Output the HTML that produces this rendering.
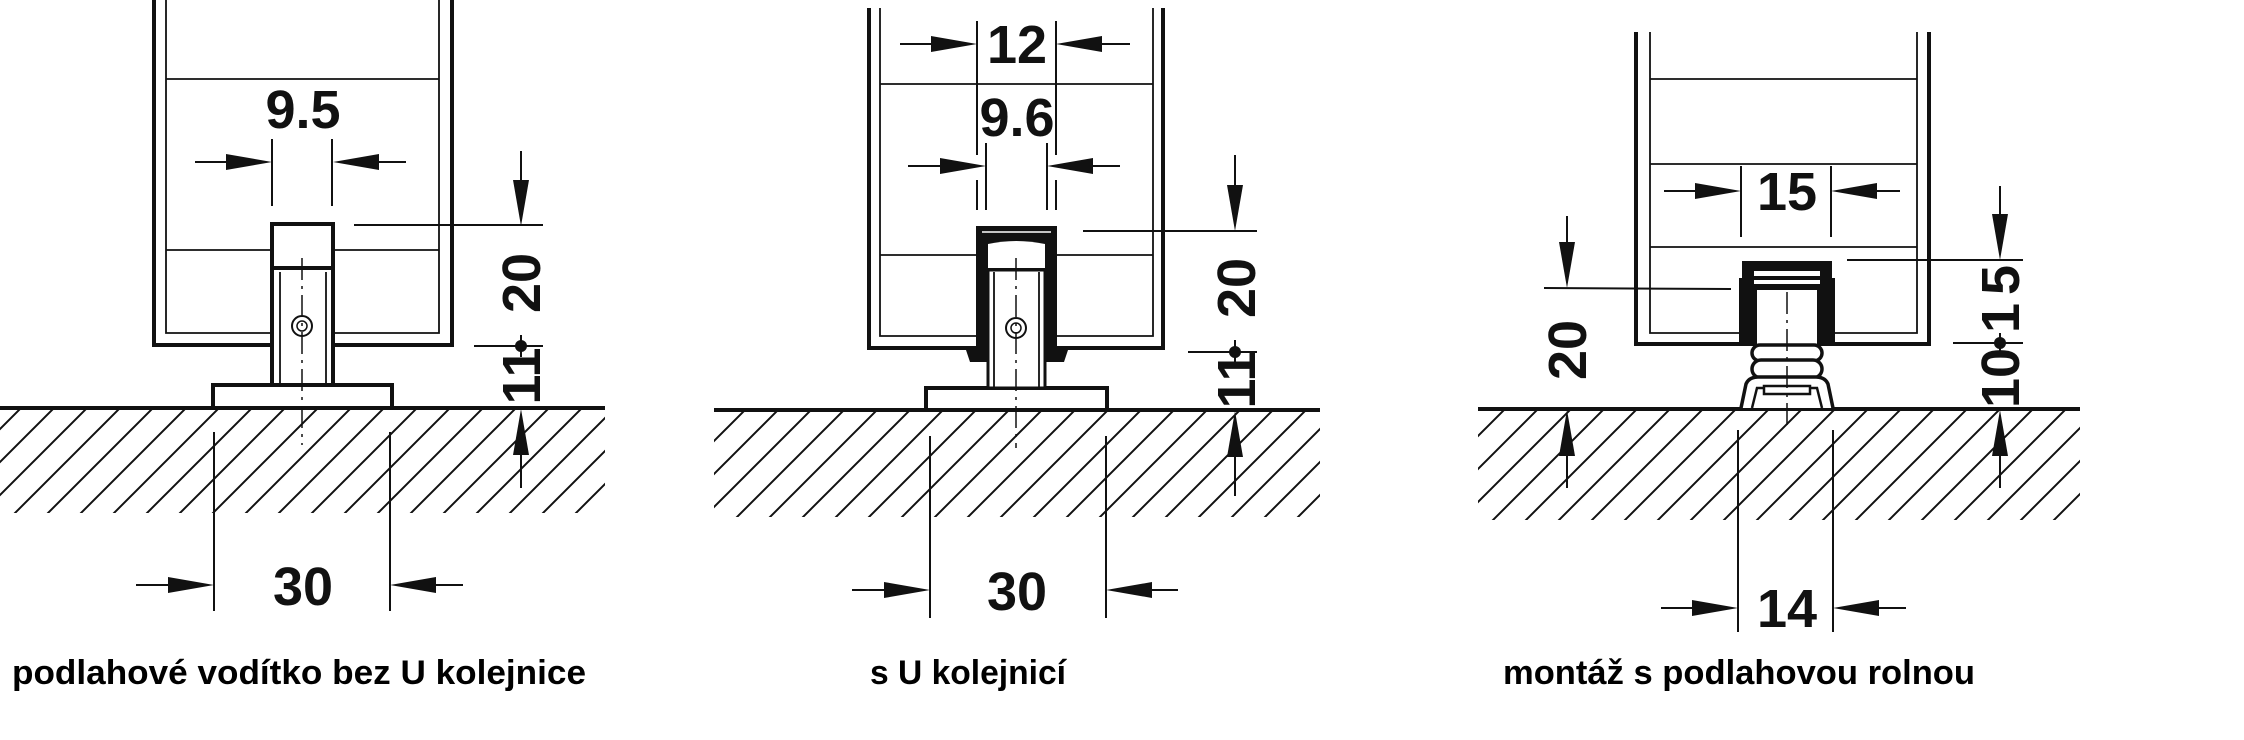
<!DOCTYPE html>
<html><head><meta charset="utf-8"><style>
html,body{margin:0;padding:0;background:#fff;}
svg{display:block;}
.d{font-family:"Liberation Sans",sans-serif;font-weight:bold;font-size:54px;fill:#111;}
.c{font-family:"Liberation Sans",sans-serif;font-weight:bold;font-size:34px;fill:#000;}
</style></head><body>
<svg width="2244" height="740" viewBox="0 0 2244 740" xmlns="http://www.w3.org/2000/svg">
<defs>
<pattern id="h" patternUnits="userSpaceOnUse" width="33" height="33">
<path d="M-5,5 L5,-5 M0,33 L33,0 M28,38 L38,28" stroke="#111" stroke-width="2"/>
</pattern>
</defs>
<g stroke="#111" fill="none" stroke-linecap="butt">

<!-- ===== PANEL 1 ===== -->
<rect x="0" y="409" width="605" height="104" fill="url(#h)" stroke="none"/>
<line x1="0" y1="408" x2="605" y2="408" stroke-width="4"/>
<polyline points="154,0 154,345 452,345 452,0" stroke-width="4"/>
<polyline points="166,0 166,333 439,333 439,0" stroke-width="1.8"/>
<line x1="166" y1="79" x2="439" y2="79" stroke-width="1.8"/>
<line x1="166" y1="250" x2="439" y2="250" stroke-width="1.8"/>
<rect x="213" y="385" width="179" height="23" fill="#fff" stroke-width="4"/>
<rect x="272" y="268" width="61" height="117" fill="#fff" stroke-width="4"/>
<line x1="280" y1="272" x2="280" y2="385" stroke-width="1.8"/>
<line x1="326" y1="272" x2="326" y2="385" stroke-width="1.8"/>
<rect x="272" y="224" width="61" height="44" fill="#fff" stroke-width="4"/>
<circle cx="302" cy="326" r="10" stroke-width="2"/><circle cx="302" cy="326" r="5" stroke-width="1.5"/>
<line x1="302" y1="258" x2="302" y2="445" stroke-width="1.5" stroke-dasharray="22,6,3,6"/>
<line x1="272" y1="139" x2="272" y2="206" stroke-width="2"/>
<line x1="332" y1="139" x2="332" y2="206" stroke-width="2"/>
<line x1="195" y1="162" x2="230" y2="162" stroke-width="2"/>
<line x1="375" y1="162" x2="406" y2="162" stroke-width="2"/>
<line x1="354" y1="225" x2="543" y2="225" stroke-width="2"/>
<line x1="521" y1="151" x2="521" y2="185" stroke-width="2"/>
<line x1="474" y1="346" x2="543" y2="346" stroke-width="2"/>
<line x1="521" y1="335" x2="521" y2="357" stroke-width="2"/>
<line x1="521" y1="450" x2="521" y2="488" stroke-width="2"/>
<line x1="214" y1="432" x2="214" y2="611" stroke-width="2"/>
<line x1="390" y1="432" x2="390" y2="611" stroke-width="2"/>
<line x1="136" y1="585" x2="170" y2="585" stroke-width="2"/>
<line x1="430" y1="585" x2="463" y2="585" stroke-width="2"/>

<!-- ===== PANEL 2 ===== -->
<rect x="714" y="411" width="606" height="106" fill="url(#h)" stroke="none"/>
<line x1="714" y1="410" x2="1320" y2="410" stroke-width="4"/>
<polyline points="869,8 869,348 1163,348 1163,8" stroke-width="4"/>
<polyline points="880,8 880,336 1153,336 1153,8" stroke-width="1.8"/>
<line x1="880" y1="84" x2="1153" y2="84" stroke-width="1.8"/>
<line x1="880" y1="255" x2="1153" y2="255" stroke-width="1.8"/>
<rect x="926" y="388" width="181" height="22" fill="#fff" stroke-width="4"/>
<path d="M966,350 H1068 L1064,362 H970 Z" fill="#111" stroke="none"/>
<rect x="976" y="226" width="81" height="134" fill="#111" stroke="none"/>
<path d="M988,244 Q1016,238 1045,244 V268 H988 Z" fill="#fff" stroke="none"/>
<line x1="982" y1="232" x2="1051" y2="232" stroke="#fff" stroke-width="1.5"/>
<rect x="988" y="270" width="57" height="118" fill="#fff" stroke="#111" stroke-width="3"/>
<line x1="994" y1="272" x2="994" y2="388" stroke-width="1.8"/>
<line x1="1039" y1="272" x2="1039" y2="388" stroke-width="1.8"/>
<circle cx="1016" cy="328" r="10" stroke-width="2"/><circle cx="1016" cy="328" r="5" stroke-width="1.5"/>
<line x1="1016" y1="258" x2="1016" y2="448" stroke-width="1.5" stroke-dasharray="22,6,3,6"/>
<line x1="977" y1="21" x2="977" y2="155" stroke-width="2"/>
<line x1="977" y1="180" x2="977" y2="210" stroke-width="2"/>
<line x1="1056" y1="21" x2="1056" y2="155" stroke-width="2"/>
<line x1="1056" y1="180" x2="1056" y2="210" stroke-width="2"/>
<line x1="900" y1="44" x2="935" y2="44" stroke-width="2"/>
<line x1="1098" y1="44" x2="1130" y2="44" stroke-width="2"/>
<line x1="986" y1="143" x2="986" y2="210" stroke-width="2"/>
<line x1="1047" y1="143" x2="1047" y2="210" stroke-width="2"/>
<line x1="908" y1="166" x2="944" y2="166" stroke-width="2"/>
<line x1="1089" y1="166" x2="1120" y2="166" stroke-width="2"/>
<line x1="1083" y1="231" x2="1257" y2="231" stroke-width="2"/>
<line x1="1235" y1="155" x2="1235" y2="190" stroke-width="2"/>
<line x1="1188" y1="352" x2="1257" y2="352" stroke-width="2"/>
<line x1="1235" y1="340" x2="1235" y2="362" stroke-width="2"/>
<line x1="1235" y1="455" x2="1235" y2="496" stroke-width="2"/>
<line x1="930" y1="436" x2="930" y2="618" stroke-width="2"/>
<line x1="1106" y1="436" x2="1106" y2="618" stroke-width="2"/>
<line x1="852" y1="590" x2="886" y2="590" stroke-width="2"/>
<line x1="1148" y1="590" x2="1178" y2="590" stroke-width="2"/>

<!-- ===== PANEL 3 ===== -->
<rect x="1478" y="410" width="602" height="110" fill="url(#h)" stroke="none"/>
<line x1="1478" y1="409" x2="2080" y2="409" stroke-width="4"/>
<polyline points="1636,32 1636,344 1929,344 1929,32" stroke-width="4"/>
<polyline points="1650,32 1650,333 1917,333 1917,32" stroke-width="1.8"/>
<line x1="1650" y1="79" x2="1917" y2="79" stroke-width="1.8"/>
<line x1="1650" y1="164" x2="1917" y2="164" stroke-width="1.8"/>
<line x1="1650" y1="247" x2="1917" y2="247" stroke-width="1.8"/>
<path d="M1742,261 H1832 V278 H1835 V346 H1739 V278 H1742 Z" fill="#111" stroke="none"/>
<rect x="1754" y="271" width="66" height="5" fill="#fff" stroke="none"/>
<rect x="1754" y="280" width="66" height="4" fill="#fff" stroke="none"/>
<rect x="1757" y="290" width="60" height="56" fill="#fff" stroke="none"/>
<rect x="1752" y="345" width="70" height="16" rx="8" fill="#fff" stroke-width="3.5"/>
<rect x="1752" y="360" width="70" height="18" rx="9" fill="#fff" stroke-width="3.5"/>
<path d="M1741,408 L1746,384 Q1749,377 1758,377 H1816 Q1825,377 1828,384 L1833,408" fill="#fff" stroke-width="3.5"/>
<path d="M1752,408 L1757,388 H1817 L1822,408" fill="none" stroke-width="2.5"/>
<rect x="1764" y="386" width="46" height="8" fill="#fff" stroke-width="2.5"/>
<line x1="1787" y1="292" x2="1787" y2="431" stroke-width="1.5" stroke-dasharray="22,6,3,6"/>
<line x1="1741" y1="166" x2="1741" y2="237" stroke-width="2"/>
<line x1="1831" y1="166" x2="1831" y2="237" stroke-width="2"/>
<line x1="1664" y1="191" x2="1696" y2="191" stroke-width="2"/>
<line x1="1876" y1="191" x2="1900" y2="191" stroke-width="2"/>
<line x1="1544" y1="288" x2="1731" y2="289" stroke-width="2"/>
<line x1="1567" y1="216" x2="1567" y2="245" stroke-width="2"/>
<line x1="1567" y1="455" x2="1567" y2="488" stroke-width="2"/>
<line x1="1847" y1="260" x2="2023" y2="260" stroke-width="2"/>
<line x1="2000" y1="186" x2="2000" y2="215" stroke-width="2"/>
<line x1="1953" y1="343" x2="2023" y2="343" stroke-width="2"/>
<line x1="2000" y1="333" x2="2000" y2="353" stroke-width="2"/>
<line x1="2000" y1="455" x2="2000" y2="488" stroke-width="2"/>
<line x1="1738" y1="430" x2="1738" y2="632" stroke-width="2"/>
<line x1="1833" y1="430" x2="1833" y2="632" stroke-width="2"/>
<line x1="1661" y1="608" x2="1694" y2="608" stroke-width="2"/>
<line x1="1877" y1="608" x2="1906" y2="608" stroke-width="2"/>
</g>

<g fill="#111">
<polygon points="226,154 272,162 226,170"/>
<polygon points="379,154 333,162 379,170"/>
<polygon points="513,180 521,226 529,180"/>
<polygon points="513,455 521,409 529,455"/>
<polygon points="168,577 214,585 168,593"/>
<polygon points="436,577 390,585 436,593"/>
<circle cx="521" cy="346" r="6"/>
<polygon points="931,36 977,44 931,52"/>
<polygon points="1102,36 1056,44 1102,52"/>
<polygon points="940,158 986,166 940,174"/>
<polygon points="1093,158 1047,166 1093,174"/>
<polygon points="1227,185 1235,231 1243,185"/>
<polygon points="1227,457 1235,411 1243,457"/>
<polygon points="884,582 930,590 884,598"/>
<polygon points="1152,582 1106,590 1152,598"/>
<circle cx="1235" cy="352" r="6"/>
<polygon points="1695,183 1741,191 1695,199"/>
<polygon points="1877,183 1831,191 1877,199"/>
<polygon points="1559,242 1567,288 1575,242"/>
<polygon points="1559,456 1567,410 1575,456"/>
<polygon points="1992,214 2000,260 2008,214"/>
<polygon points="1992,456 2000,410 2008,456"/>
<polygon points="1692,600 1738,608 1692,616"/>
<polygon points="1879,600 1833,608 1879,616"/>
<circle cx="2000" cy="343" r="6"/>
</g>

<text class="d" x="303" y="128" text-anchor="middle">9.5</text>
<text class="d" transform="translate(540,283) rotate(-90)" text-anchor="middle">20</text>
<text class="d" transform="translate(540,376) rotate(-90)" text-anchor="middle">11</text>
<text class="d" x="303" y="605" text-anchor="middle">30</text>

<text class="d" x="1017" y="63" text-anchor="middle">12</text>
<text class="d" x="1017" y="136" text-anchor="middle">9.6</text>
<text class="d" transform="translate(1255,288) rotate(-90)" text-anchor="middle">20</text>
<text class="d" transform="translate(1255,380) rotate(-90)" text-anchor="middle">11</text>
<text class="d" x="1017" y="610" text-anchor="middle">30</text>

<text class="d" x="1787" y="210" text-anchor="middle">15</text>
<text class="d" transform="translate(1586,350) rotate(-90)" text-anchor="middle">20</text>
<text class="d" transform="translate(2019,295) rotate(-90)" text-anchor="middle" letter-spacing="8">15</text>
<text class="d" transform="translate(2019,378) rotate(-90)" text-anchor="middle">10</text>
<text class="d" x="1787" y="627" text-anchor="middle">14</text>

<text class="c" x="12" y="684" textLength="574" lengthAdjust="spacingAndGlyphs">podlahové vodítko bez U kolejnice</text>
<text class="c" x="870" y="684" textLength="196" lengthAdjust="spacingAndGlyphs">s U kolejnicí</text>
<text class="c" x="1503" y="684" textLength="472" lengthAdjust="spacingAndGlyphs">montáž s podlahovou rolnou</text>
</svg>
</body></html>
